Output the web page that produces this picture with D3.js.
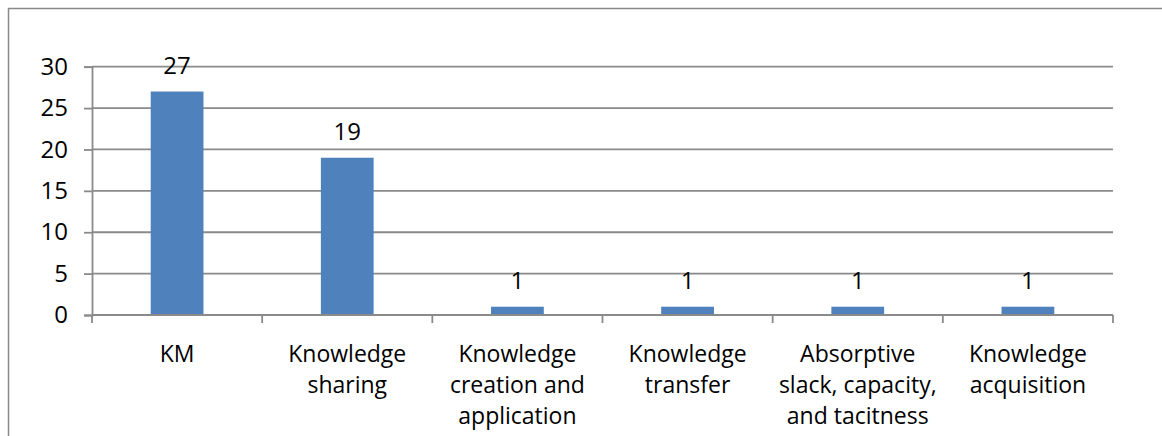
<!DOCTYPE html>
<html><head><meta charset="utf-8">
<script src="https://cdn.jsdelivr.net/npm/d3@7"></script>
<style>html,body{margin:0;padding:0;background:#fff;}svg{display:block;}</style>
</head><body>
<script>
const categories = ["KM", "Knowledge sharing", "Knowledge creation and application", "Knowledge transfer", "Absorptive slack, capacity, and tacitness", "Knowledge acquisition"];
const categoryLines = [["KM"], ["Knowledge", "sharing"], ["Knowledge", "creation and", "application"], ["Knowledge", "transfer"], ["Absorptive", "slack, capacity,", "and tacitness"], ["Knowledge", "acquisition"]];
const values = [27, 19, 1, 1, 1, 1];
const yTicks = [0, 5, 10, 15, 20, 25, 30];

(function () {
const W = 1162, H = 436;
const mL = 92, mR = 1113, mT = 66.7, mB = 315;
const font = "'Open Sans', sans-serif";
const fs = 23;
const gray = "#8a8a8a";

const svg = d3.select("body").append("svg").attr("width", W).attr("height", H);
svg.append("rect").attr("width", W).attr("height", H).attr("fill", "#fff");
svg.append("path").attr("d", `M8.5,${H} V8.5 H${W}`).attr("fill", "none").attr("stroke", gray).attr("stroke-width", 1.5);

const x = d3.scaleBand().domain(categories).range([mL, mR]).paddingInner(0.69).paddingOuter(0.345);
const xOuter = d3.scaleBand().domain(categories).range([mL, mR]);
const y = d3.scaleLinear().domain([0, 30]).range([mB, mT]);

svg.append("g").selectAll("line").data(yTicks.filter(d => d > 0)).join("line")
  .attr("x1", mL).attr("x2", mR).attr("y1", d => y(d)).attr("y2", d => y(d))
  .attr("stroke", gray).attr("stroke-width", 1.8);

const yAxis = svg.append("g").attr("transform", `translate(${mL},0)`)
  .call(d3.axisLeft(y).tickValues(yTicks).tickSize(8).tickPadding(16));
yAxis.select(".domain").attr("stroke", gray).attr("stroke-width", 1.8);
yAxis.selectAll(".tick line").attr("stroke", gray).attr("stroke-width", 1.8);
yAxis.selectAll(".tick text").attr("font-family", font).attr("font-size", 24).attr("fill", "#000");

svg.append("g").selectAll("rect").data(values).join("rect")
  .attr("x", (d, i) => x(categories[i])).attr("width", x.bandwidth())
  .attr("y", d => y(d)).attr("height", d => y(0) - y(d))
  .attr("fill", "#4f81bd");

svg.append("line").attr("x1", mL).attr("x2", mR).attr("y1", mB).attr("y2", mB)
  .attr("stroke", gray).attr("stroke-width", 1.8);
const xt = categories.map(c => xOuter(c)).concat([mR]);
svg.append("g").selectAll("line").data(xt).join("line")
  .attr("x1", d => d).attr("x2", d => d).attr("y1", mB).attr("y2", mB + 8)
  .attr("stroke", gray).attr("stroke-width", 1.8);

const lab = svg.append("g").selectAll("text").data(categories).join("text")
  .attr("text-anchor", "middle").attr("font-family", font).attr("font-size", fs).attr("fill", "#000")
  .attr("transform", c => `translate(${xOuter(c) + xOuter.bandwidth() / 2},362)`);
lab.selectAll("tspan").data((c, i) => categoryLines[i]).join("tspan")
  .attr("x", 0).attr("y", (d, j) => j * 31).text(d => d);

svg.append("g").selectAll("text").data(values).join("text")
  .attr("x", (d, i) => x(categories[i]) + x.bandwidth() / 2).attr("y", d => y(d) - 18)
  .attr("text-anchor", "middle").attr("font-family", font).attr("font-size", 24).attr("fill", "#000")
  .text(d => d);
})();
</script>
</body></html>
